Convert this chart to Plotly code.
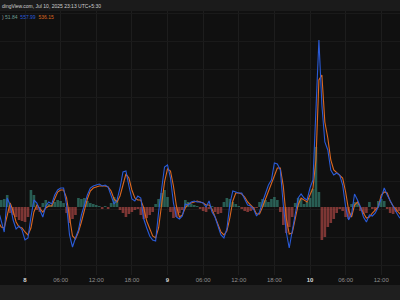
import pandas as pd
import plotly.graph_objects as go

# ---- data (30-minute bars) ----
start_time = "2025-07-07 19:30"
n_bars = 137

macd = [-3, -13, -25, 9, 2, -13, -22, -19, -23, -33, -31, -10, 7, 4, -4, -10, 1, 5, 3, 12,
        17, 19, 19, 2, -28, -40, -31, -23, -8, 2, 12, 19, 21, 22, 23, 21, 22, 20, 12, 3,
        7, 19, 35, 36, 21, 8, 6, 11, 9, -12, -21, -29, -33, -34, -5, 19, 40, 42, 29, 4,
        -10, -12, -9, 3, 2, 5, 6, 5, 5, 4, 0, 6, -5, -10, -20, -28, -31, -22, 3, 16,
        15, 14, 14, 8, 2, 1, -2, -9, -5, 5, 13, 22, 27, 44, 43, 37, 2, -25, -41, -23,
        -5, 9, 13, 9, 7, 19, 27, 97, 167, 102, 65, 57, 37, 32, 34, 32, 22, 0, -13, -7,
        13, 7, 0, -10, -15, -8, -9, -6, 0, 9, 19, 12, 6, 0, -5, -10, -13]

signal = [-15, -20, -21, -7, 4, -4, -15, -20, -21, -25, -28, -21, -5, 2, -2, -5, -1, 1, 1, 8,
          15, 17, 17, 9, -11, -29, -32, -25, -15, -4, 8, 16, 19, 20, 21, 21, 21, 20, 16, 8,
          5, 11, 23, 33, 29, 17, 9, 7, 7, -1, -14, -22, -29, -31, -21, 2, 25, 38, 36, 21,
          1, -10, -8, -1, 3, 4, 5, 6, 5, 4, 2, 2, -2, -10, -17, -25, -28, -24, -11, 6,
          14, 14, 13, 10, 5, 2, -1, -7, -7, 0, 8, 17, 25, 32, 39, 39, 21, -11, -27, -26,
          -12, 2, 9, 7, 5, 12, 19, 47, 127, 132, 85, 69, 47, 37, 34, 32, 29, 15, -3, -10,
          2, 5, -1, -6, -11, -10, -6, -3, 0, 12, 15, 14, 6, 1, -3, -6, -9]

hist = [7, 7, 8, 12, -6, -8, -10, -13, -14, -15, -10, 17, 12, -3, -5, 4, 7, 3, 2, 5,
        7, 6, 4, -6, -16, -12, -8, 9, 8, 9, 6, 4, 3, 2, 1, -2, 1, -2, 4, 10,
        7, -3, -6, -10, -7, -5, -3, -2, -8, -12, -11, -8, -5, 3, 8, 14, 17, 10, -5, -11,
        -10, -6, -3, 7, 5, 3, 2, 1, -2, -4, -5, -2, 1, -5, -7, -6, 5, 9, 8, 5,
        3, 1, -2, -4, -5, -4, -3, -1, 5, 8, 7, 5, 8, 10, 7, -5, -18, -26, -20, -10,
        4, 9, 8, 3, 5, 9, 18, 60, 15, -33, -30, -20, -16, -12, -6, -2, -4, -10, -12, 3,
        5, 4, -4, -7, -6, 5, -2, -3, 6, 8, 6, -2, -6, -7, -5, -4, -3]

tick_vals = ["2025-07-08 00:00", "2025-07-08 06:00", "2025-07-08 12:00", "2025-07-08 18:00",
             "2025-07-09 00:00", "2025-07-09 06:00", "2025-07-09 12:00", "2025-07-09 18:00",
             "2025-07-10 00:00", "2025-07-10 06:00", "2025-07-10 12:00"]
tick_labels = ["8", "06:00", "12:00", "18:00", "9", "06:00", "12:00", "18:00", "10", "06:00", "12:00"]
day_labels = {"8", "9", "10"}

header_text = "dingView.com, Jul 10, 2025 23:13 UTC+5:30"
legend_values = ["51.84", "557.99", "536.15"]

# ---- styling ----
BG = "#101010"
BLUE = "#2a5bd8"
ORANGE = "#dc6820"
TEAL = "rgba(58,150,132,0.58)"
RED = "rgba(205,82,80,0.58)"

times = pd.date_range(start_time, periods=n_bars, freq="30min")

fig = go.Figure()
fig.add_trace(go.Bar(
    x=times, y=hist,
    marker=dict(color=[TEAL if v >= 0 else RED for v in hist], line=dict(width=0)),
    showlegend=False, hoverinfo="skip",
))
fig.add_trace(go.Scatter(x=times, y=signal, mode="lines",
                         line=dict(color=ORANGE, width=1.1), showlegend=False))
fig.add_trace(go.Scatter(x=times, y=macd, mode="lines",
                         line=dict(color=BLUE, width=1.1), showlegend=False))

ticktext = []
for t in tick_labels:
    if t in day_labels:
        ticktext.append("<b>%s</b>" % t)
    else:
        ticktext.append("<span style='color:#8e8e8e'>%s</span>" % t)

fig.update_layout(
    width=400, height=300,
    margin=dict(l=0, r=0, t=11, b=25),
    paper_bgcolor=BG, plot_bgcolor=BG,
    bargap=0.12,
    xaxis=dict(
        range=["2025-07-07 19:47:22", "2025-07-10 15:09:28"],
        tickvals=tick_vals, ticktext=ticktext,
        tickfont=dict(family="Liberation Sans", size=6, color="#d8d8d8"),
        showgrid=True, gridcolor="#1d1d1d", gridwidth=1,
        zeroline=False, showline=False, ticks="",
    ),
    yaxis=dict(
        range=[-68, 196],
        tick0=-2, dtick=28,
        showticklabels=False,
        showgrid=True, gridcolor="#1a1a1a", gridwidth=1,
        zeroline=False, showline=False, ticks="",
    ),
    shapes=[
        dict(type="rect", xref="paper", yref="paper", x0=0, x1=1,
             y0=1.0, y1=1.05, fillcolor="#1b1b1b", line=dict(width=0), layer="below"),
        dict(type="rect", xref="paper", yref="paper", x0=0, x1=1,
             y0=-0.0947, y1=-0.0379, fillcolor="#1f1f1f", line=dict(width=0), layer="below"),
    ],
    annotations=[
        dict(xref="paper", yref="paper", x=0.0, y=1.0 + 5.5 / 264, xanchor="left", yanchor="middle",
             text=header_text, showarrow=False,
             font=dict(family="Liberation Sans", size=5, color="#cfcfcf")),
        dict(xref="paper", yref="paper", x=0.0, y=1.0 - 6 / 264, xanchor="left", yanchor="middle",
             text=(") <span style='color:#6f9f92'>%s</span>  <span style='color:%s'>%s</span>  "
                   "<span style='color:%s'>%s</span>") % (legend_values[0], BLUE, legend_values[1],
                                                        ORANGE, legend_values[2]),
             showarrow=False,
             font=dict(family="Liberation Sans", size=5, color="#9a9a9a")),
    ],
)

fig.write_html("out.html")
